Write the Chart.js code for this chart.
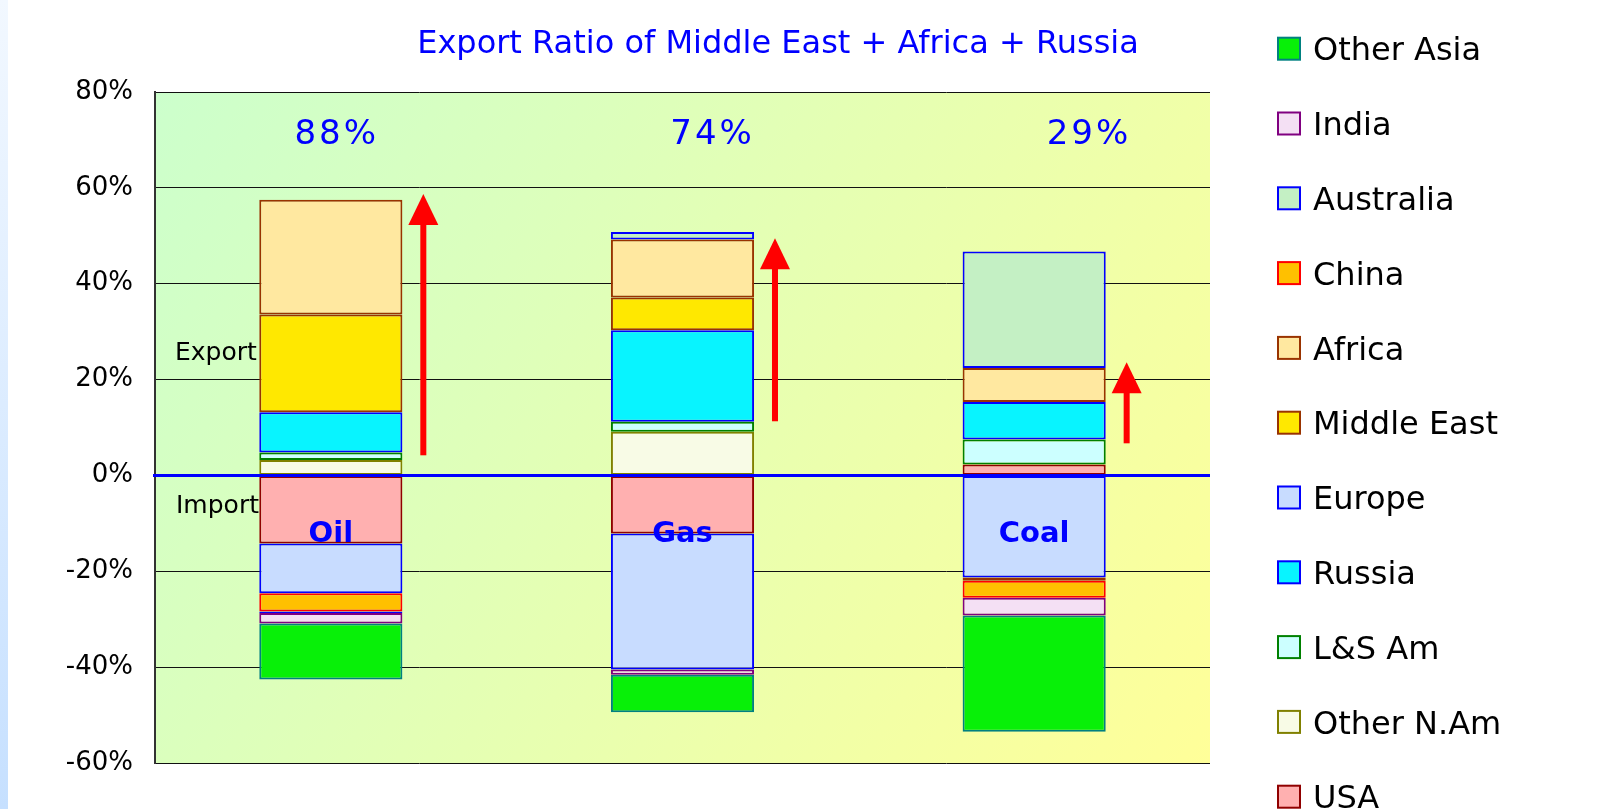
<!DOCTYPE html>
<html>
<head>
<meta charset="utf-8">
<title>Export Ratio of Middle East + Africa + Russia</title>
<script src="https://cdn.jsdelivr.net/npm/chart.js@4.4.1/dist/chart.umd.min.js"></script>
<style>
  html, body { margin: 0; padding: 0; background: #fff; }
  #wrap { position: relative; width: 1624px; height: 809px; }
</style>
</head>
<body>
<div id="wrap"><canvas id="exportChart"></canvas></div>
<script>
const categories = ['Oil', 'Gas', 'Coal'];
const ratioLabels = ['88%', '74%', '29%'];
const yTicks = [80, 60, 40, 20, 0, -20, -40, -60];

// share of world trade, export (+) / import (-), in %
const usa        = [-14.2, -12.1,   2.3];
const otherNAm   = [  3.2,   9.1,   0  ];
const lsAm       = [  1.6,   2.1,   5.2];
const russia     = [  8.4,  19.1,   7.8];
const europe     = [-10.4, -28.4, -21.3];
const middleEast = [ 20.4,   6.8,  -0.7];
const africa     = [ 23.9,  12.1,   7.1];
const china      = [ -3.8,   0,    -3.5];
const australia  = [ -0.3,   1.6,  24.3];
const india      = [ -2.2,  -1.1,  -3.7];
const otherAsia  = [-11.7,  -7.8, -24.3];

// red arrows (from / to, in %)
const arrowBase = [4.2, 11.3, 6.7];
const arrowTip  = [58.7, 49.5, 23.6];

const FONT = "'DejaVu Sans', sans-serif";

const series = [
  { label: 'USA',         data: usa,        fill: '#FFB0B0', line: '#900000' },
  { label: 'Other N.Am',  data: otherNAm,   fill: '#F8FBE6', line: '#808000' },
  { label: 'L&S Am',      data: lsAm,       fill: '#CCFFFF', line: '#008000' },
  { label: 'Russia',      data: russia,     fill: '#08F4FF', line: '#0000FF' },
  { label: 'Europe',      data: europe,     fill: '#C8DCFF', line: '#0000FF' },
  { label: 'Middle East', data: middleEast, fill: '#FFE800', line: '#993300' },
  { label: 'Africa',      data: africa,     fill: '#FFE8A0', line: '#993300' },
  { label: 'China',       data: china,      fill: '#FFC000', line: '#FF0000' },
  { label: 'Australia',   data: australia,  fill: '#C4F0C4', line: '#0000FF' },
  { label: 'India',       data: india,      fill: '#F4E0F4', line: '#800080' },
  { label: 'Other Asia',  data: otherAsia,  fill: '#08F008', line: '#008080' }
];

const decor = {
  id: 'decor',
  beforeDraw(chart) {
    const { ctx, chartArea: a, width, height } = chart;
    ctx.save();
    ctx.fillStyle = '#fff';
    ctx.fillRect(0, 0, width, height);
    // bluish strip on the left edge of the slide
    const strip = ctx.createLinearGradient(0, 0, 0, height);
    strip.addColorStop(0, '#F2F8FF');
    strip.addColorStop(1, '#C6E0FF');
    ctx.fillStyle = strip;
    ctx.fillRect(0, 0, 8, height);
    // plot area gradient
    const g = ctx.createLinearGradient(a.left, a.top, a.right, a.bottom);
    g.addColorStop(0, '#CCFFCC');
    g.addColorStop(1, '#FFFF99');
    ctx.fillStyle = g;
    ctx.fillRect(a.left, a.top, a.width, a.height);
    ctx.restore();
  },
  afterDatasetsDraw(chart) {
    const { ctx, chartArea: a } = chart;
    const xs = chart.scales.x, ys = chart.scales.y;
    const zeroY = ys.getPixelForValue(0);
    const catW = a.width / categories.length;
    ctx.save();

    // zero line
    ctx.strokeStyle = '#0000FF';
    ctx.lineWidth = 3;
    ctx.beginPath();
    ctx.moveTo(a.left - 2, zeroY);
    ctx.lineTo(a.right, zeroY);
    ctx.stroke();

    // arrows
    ctx.fillStyle = '#FF0000';
    categories.forEach((c, i) => {
      const x = xs.getPixelForValue(i) + 0.263 * catW;
      const yb = ys.getPixelForValue(arrowBase[i]);
      const yt = ys.getPixelForValue(arrowTip[i]);
      const headH = 31, headW = 30, shaft = 6;
      ctx.fillRect(x - shaft / 2, yt + headH - 1, shaft, yb - yt - headH + 1);
      ctx.beginPath();
      ctx.moveTo(x, yt);
      ctx.lineTo(x + headW / 2, yt + headH);
      ctx.lineTo(x - headW / 2, yt + headH);
      ctx.closePath();
      ctx.fill();
    });

    // ratio labels
    const ratioPos = [0.1722, 0.5285, 0.8853];
    ctx.fillStyle = '#0000FF';
    ctx.font = '34px ' + FONT;
    ctx.textAlign = 'center';
    ctx.textBaseline = 'alphabetic';
    ctx.letterSpacing = '3px';
    ratioLabels.forEach((t, i) => {
      ctx.fillText(t, a.left + ratioPos[i] * a.width, a.top + 52);
    });
    ctx.letterSpacing = '0px';

    // category names on the bars
    ctx.font = 'bold 29px ' + FONT;
    categories.forEach((c, i) => {
      ctx.fillText(c, xs.getPixelForValue(i), zeroY + 67);
    });

    // Export / Import
    ctx.fillStyle = '#000';
    ctx.font = '25px ' + FONT;
    ctx.textAlign = 'left';
    ctx.fillText('Export', a.left + 20, zeroY - 115);
    ctx.fillText('Import', a.left + 21, zeroY + 38);
    ctx.restore();
  },
  afterDraw(chart) {
    const { ctx } = chart;
    ctx.save();
    // title
    ctx.fillStyle = '#0000FF';
    ctx.font = '32px ' + FONT;
    ctx.textAlign = 'center';
    ctx.textBaseline = 'alphabetic';
    ctx.fillText('Export Ratio of Middle East + Africa + Russia', 778, 53);

    // legend, reversed like the stack
    const items = chart.data.datasets.slice().reverse();
    ctx.font = '32px ' + FONT;
    ctx.textAlign = 'left';
    items.forEach((ds, i) => {
      const cy = 48.7 + i * 74.8;
      ctx.fillStyle = ds.backgroundColor;
      ctx.fillRect(1278, cy - 11, 22, 22);
      ctx.strokeStyle = ds.borderColor;
      ctx.lineWidth = 2;
      ctx.strokeRect(1278, cy - 11, 22, 22);
      ctx.fillStyle = '#000';
      ctx.fillText(ds.label, 1313, cy + 11.7);
    });
    ctx.restore();
  }
};

const config = {
  type: 'bar',
  data: {
    labels: categories,
    datasets: series.map(s => ({
      label: s.label,
      data: s.data,
      backgroundColor: s.fill,
      borderColor: s.line,
      borderWidth: 2,
      borderSkipped: false,
      barPercentage: 0.407,
      categoryPercentage: 1
    }))
  },
  options: {
    responsive: true,
    maintainAspectRatio: false,
    animation: false,
    events: [],
    layout: { padding: { top: 92, bottom: 46, left: 0, right: 414 } },
    plugins: {
      legend: { display: false },
      title: { display: false },
      tooltip: { enabled: false }
    },
    scales: {
      x: { stacked: true, display: false },
      y: {
        stacked: true,
        min: -60,
        max: 80,
        afterBuildTicks: s => { s.ticks = yTicks.map(v => ({ value: v })); },
        afterFit: s => { s.width = 155; },
        ticks: {
          callback: v => v + '%',
          color: '#000',
          font: { family: FONT, size: 26 },
          padding: 22
        },
        grid: {
          color: c => (c.tick && c.tick.value === 0) ? 'rgba(0,0,0,0)' : '#111',
          lineWidth: 1,
          drawTicks: false
        },
        border: { display: true, color: '#333', width: 2 }
      }
    }
  },
  plugins: [decor]
};

new Chart(document.getElementById('exportChart'), config);
</script>
</body>
</html>
